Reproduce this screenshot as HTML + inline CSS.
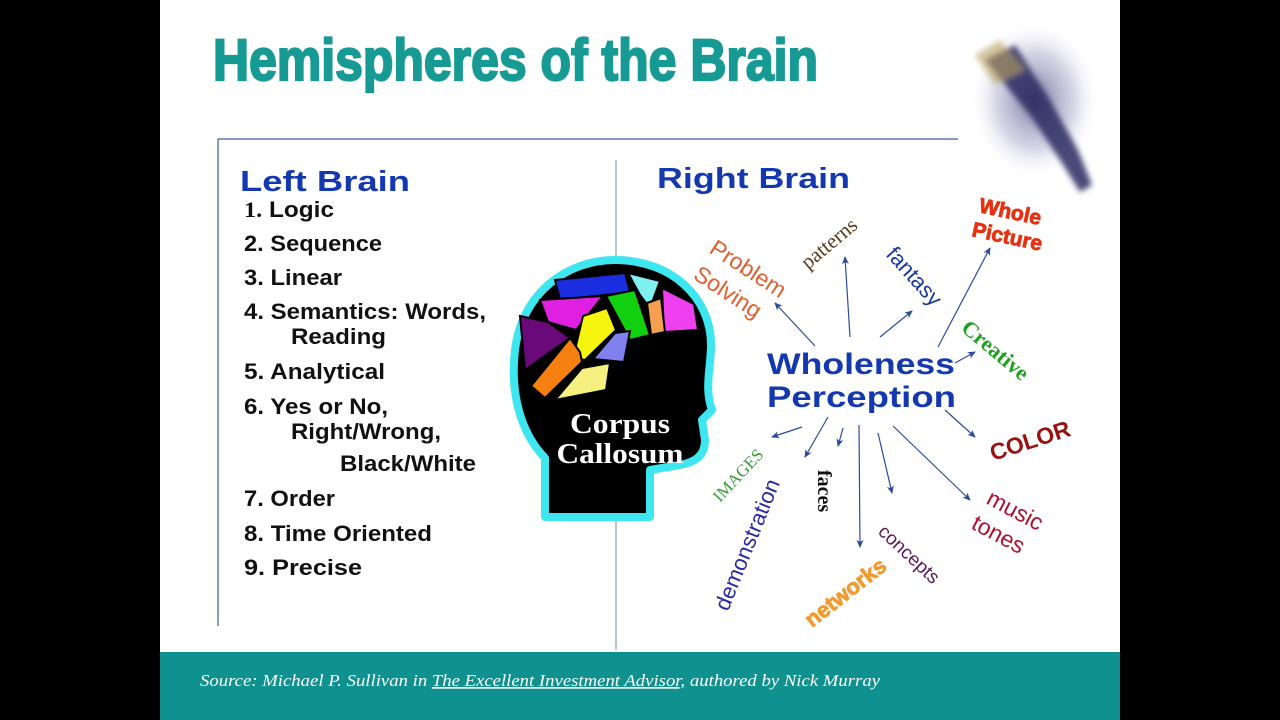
<!DOCTYPE html>
<html><head><meta charset="utf-8"><style>
html,body{margin:0;padding:0;background:#000;}
svg{display:block}
</style></head><body>
<svg width="1280" height="720" viewBox="0 0 1280 720" xmlns="http://www.w3.org/2000/svg" font-family="Liberation Sans, sans-serif">
<defs>
<marker id="a" markerWidth="8" markerHeight="8" refX="7" refY="4" orient="auto" markerUnits="userSpaceOnUse"><path d="M0,0.5 L8,4 L0,7.5 L2,4 Z" fill="#2a4a9a"/></marker>
<radialGradient id="g" cx="0.5" cy="0.5" r="0.5"><stop offset="0" stop-color="#3a3a70" stop-opacity="0.7"/><stop offset="0.6" stop-color="#8888b8" stop-opacity="0.35"/><stop offset="1" stop-color="#fff" stop-opacity="0"/></radialGradient>
<filter id="bl"><feGaussianBlur stdDeviation="3"/></filter>
</defs>
<rect x="160" y="0" width="960" height="720" fill="#fff"/>
<rect x="160" y="652" width="960" height="68" fill="#0f9190"/>
<text x="213" y="80" font-family="Liberation Sans Narrow, Liberation Sans, sans-serif" font-weight="bold" font-size="58" fill="#179a94" stroke="#179a94" stroke-width="2.2" textLength="605" lengthAdjust="spacingAndGlyphs">Hemispheres of the Brain</text>
<!-- chess piece approx -->
<ellipse cx="1035" cy="100" rx="65" ry="80" fill="url(#g)"/>
<g filter="url(#bl)">
<path d="M985,60 L1015,45 L1050,100 L1078,150 L1092,185 L1080,192 L1060,160 L1030,115 Z" fill="#2a2a60" opacity="0.85"/>
<path d="M975,55 L1000,40 L1025,70 L995,85 Z" fill="#b8a060" opacity="0.6"/>
</g>
<line x1="218" y1="139" x2="958" y2="139" stroke="#3a5a9a" stroke-width="1.2"/>
<line x1="218" y1="139" x2="218" y2="626" stroke="#3a5a9a" stroke-width="1.2"/>
<line x1="616" y1="160" x2="616" y2="650" stroke="#7a8aaa" stroke-width="1"/>
<text x="240" y="191" font-weight="bold" font-size="29" fill="#1438b0" textLength="170" lengthAdjust="spacingAndGlyphs">Left Brain</text>
<g font-weight="bold" font-size="22" fill="#111" lengthAdjust="spacingAndGlyphs">
<text x="244" y="217" textLength="90" lengthAdjust="spacingAndGlyphs"><tspan font-family="Liberation Serif, serif">1.</tspan> Logic</text>
<text x="244" y="251" textLength="138" lengthAdjust="spacingAndGlyphs">2. Sequence</text>
<text x="244" y="285" textLength="98" lengthAdjust="spacingAndGlyphs">3. Linear</text>
<text x="244" y="319" textLength="242" lengthAdjust="spacingAndGlyphs">4. Semantics: Words,</text>
<text x="291" y="344" textLength="95" lengthAdjust="spacingAndGlyphs">Reading</text>
<text x="244" y="379" textLength="141" lengthAdjust="spacingAndGlyphs">5. Analytical</text>
<text x="244" y="414" textLength="144" lengthAdjust="spacingAndGlyphs">6. Yes or No,</text>
<text x="291" y="439" textLength="150" lengthAdjust="spacingAndGlyphs">Right/Wrong,</text>
<text x="340" y="471" textLength="136" lengthAdjust="spacingAndGlyphs">Black/White</text>
<text x="244" y="506" textLength="91" lengthAdjust="spacingAndGlyphs">7. Order</text>
<text x="244" y="541" textLength="188" lengthAdjust="spacingAndGlyphs">8. Time Oriented</text>
<text x="244" y="575" textLength="118" lengthAdjust="spacingAndGlyphs">9.  Precise</text>
</g>
<text x="657" y="188" font-weight="bold" font-size="29" fill="#1438b0" textLength="193" lengthAdjust="spacingAndGlyphs">Right Brain</text>
<!-- head -->
<path d="M545,517 L545,458 C520,432 510,392 515,350 C522,292 568,260 615,260 C672,260 711,298 711,345 C711,368 704,388 712,410 L702,420 L705,440 C705,456 695,462 680,465 L650,470 L650,517 Z" fill="#000" stroke="#3ee6f0" stroke-width="8" stroke-linejoin="round"/>
<g stroke="#000" stroke-width="2">
<path d="M555,280 L625,273 L630,292 L560,300 Z" fill="#1a2ee0"/>
<path d="M628,273 L660,281 L650,308 L640,295 Z" fill="#7ff0f0"/>
<path d="M540,300 L603,296 L576,330 L548,322 Z" fill="#e020e0"/>
<path d="M606,296 L635,290 L650,335 L630,340 Z" fill="#10d010"/>
<path d="M662,288 L694,304 L698,330 L664,332 Z" fill="#ee40ee"/>
<path d="M647,303 L661,298 L665,332 L651,335 Z" fill="#f5a050"/>
<path d="M520,316 L548,322 L570,338 L525,370 Z" fill="#6a0a7a"/>
<path d="M583,316 L607,308 L616,330 L585,360 L573,358 Z" fill="#f5f510"/>
<path d="M615,333 L630,331 L624,362 L593,359 Z" fill="#8080ee"/>
<path d="M570,338 L580,352 L582,362 L545,398 L531,386 Z" fill="#f58010"/>
<path d="M582,368 L610,363 L606,390 L555,400 Z" fill="#f5f080"/>
</g>
<text x="620" y="433" text-anchor="middle" font-family="Liberation Serif, serif" font-weight="bold" font-size="29" fill="#fff" textLength="100" lengthAdjust="spacingAndGlyphs">Corpus</text>
<text x="620" y="463" text-anchor="middle" font-family="Liberation Serif, serif" font-weight="bold" font-size="29" fill="#fff" textLength="127" lengthAdjust="spacingAndGlyphs">Callosum</text>
<!-- center -->
<text x="767" y="374" font-weight="bold" font-size="30" fill="#1438b0" textLength="188" lengthAdjust="spacingAndGlyphs">Wholeness</text>
<text x="767" y="407" font-weight="bold" font-size="30" fill="#1438b0" textLength="189" lengthAdjust="spacingAndGlyphs">Perception</text>
<g stroke="#2a4a9a" stroke-width="1.2" marker-end="url(#a)">
<line x1="815" y1="346" x2="775" y2="303"/>
<line x1="850" y1="337" x2="845" y2="257"/>
<line x1="880" y1="337" x2="912" y2="311"/>
<line x1="938" y1="347" x2="990" y2="248"/>
<line x1="955" y1="363" x2="975" y2="352"/>
<line x1="945" y1="410" x2="975" y2="437"/>
<line x1="893" y1="426" x2="970" y2="500"/>
<line x1="878" y1="433" x2="892" y2="493"/>
<line x1="859" y1="425" x2="860" y2="547"/>
<line x1="843" y1="428" x2="838" y2="446"/>
<line x1="828" y1="417" x2="805" y2="457"/>
<line x1="802" y1="427" x2="772" y2="437"/>
</g>
<text transform="translate(708,252) rotate(33)" font-size="23" fill="#e06030">Problem</text>
<text transform="translate(692,278) rotate(33)" font-size="23" fill="#e06030">Solving</text>
<text transform="translate(808,270) rotate(-40)" font-family="Liberation Serif, serif" font-size="21" fill="#5a3a1a">patterns</text>
<text transform="translate(885,255) rotate(48)" font-size="22" fill="#1a3a9a">fantasy</text>
<text transform="translate(978,212) rotate(12)" font-weight="bold" font-family="Liberation Sans Narrow, sans-serif" font-size="21" fill="#e83010" stroke="#e83010" stroke-width="0.8">Whole</text>
<text transform="translate(971,236) rotate(12)" font-weight="bold" font-family="Liberation Sans Narrow, sans-serif" font-size="21" fill="#e83010" stroke="#e83010" stroke-width="0.8">Picture</text>
<text transform="translate(960,330) rotate(40)" font-family="Liberation Serif, serif" font-weight="bold" font-size="22" fill="#20a020">Creative</text>
<text transform="translate(993,461) rotate(-18)" font-weight="bold" font-size="23" fill="#9a1010">COLOR</text>
<text transform="translate(985,503) rotate(28)" font-size="23" fill="#b01030">music</text>
<text transform="translate(970,528) rotate(28)" font-size="23" fill="#b01030">tones</text>
<text transform="translate(877,533) rotate(43)" font-size="19" fill="#5a1a5a">concepts</text>
<text transform="translate(812,628) rotate(-38)" font-weight="bold" font-family="Liberation Sans Narrow, sans-serif" font-size="22" fill="#f09a30" stroke="#f09a30" stroke-width="0.8">networks</text>
<text transform="translate(818,470) rotate(90)" font-family="Liberation Serif, serif" font-weight="bold" font-size="20" fill="#111">faces</text>
<text transform="translate(728,612) rotate(-68)" font-size="22" fill="#2a2aa0">demonstration</text>
<text transform="translate(720,503) rotate(-47)" font-family="Liberation Serif, serif" font-size="17" fill="#3a9a3a">IMAGES</text>
<text x="200" y="686" font-family="Liberation Serif, serif" font-style="italic" font-size="17" fill="#fff" textLength="680" lengthAdjust="spacingAndGlyphs">Source: Michael P. Sullivan in <tspan text-decoration="underline">The Excellent Investment Advisor,</tspan>  authored by Nick Murray</text>
</svg>
</body></html>
